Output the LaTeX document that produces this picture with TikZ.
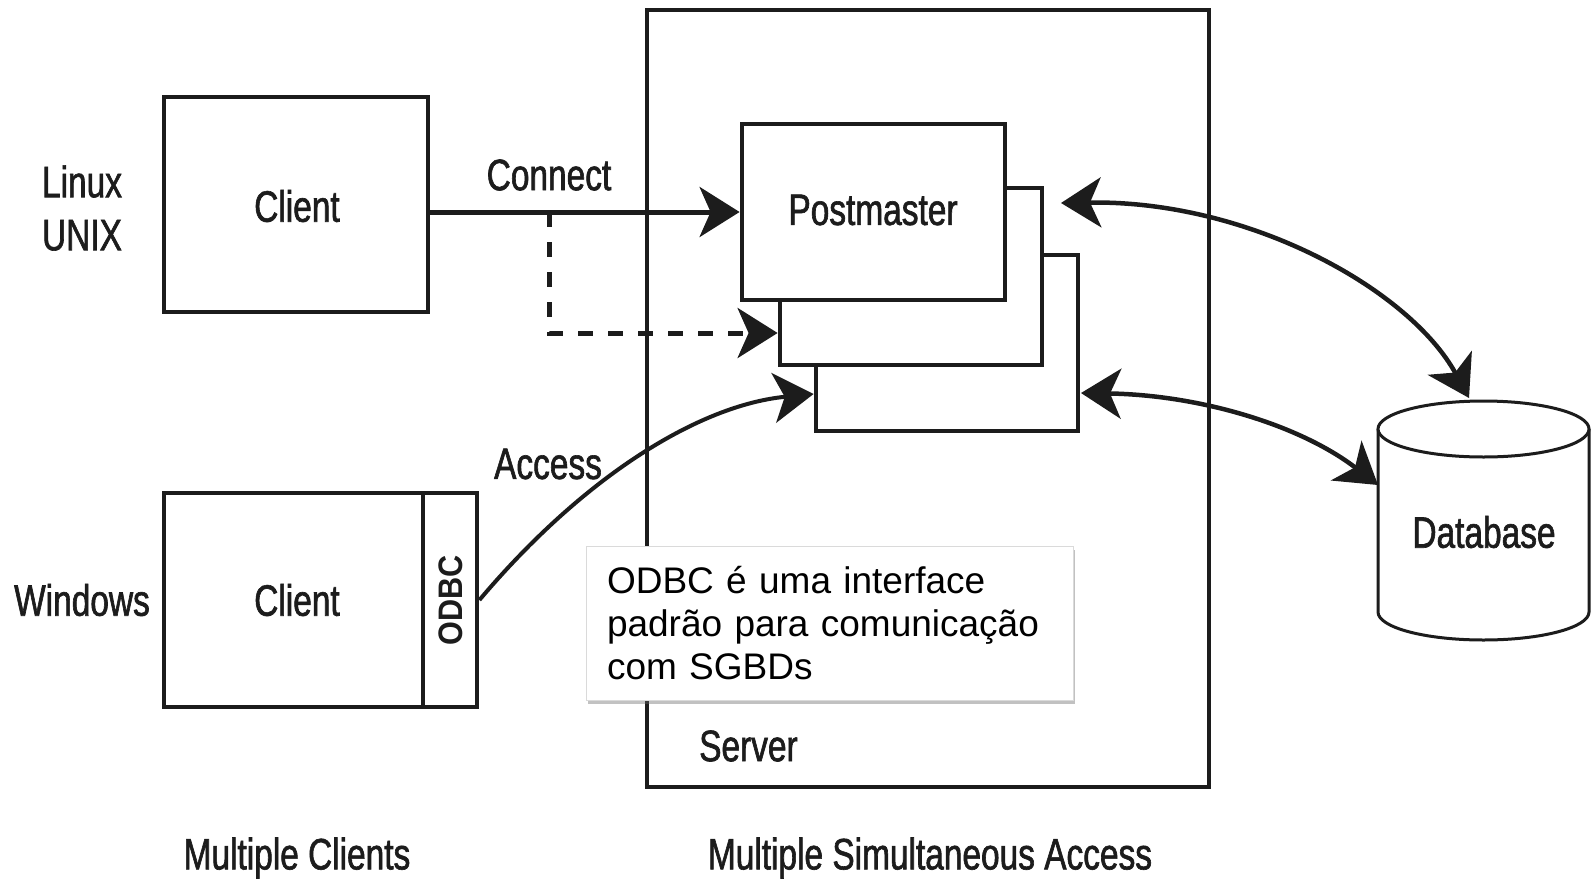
\documentclass[tikz,border=0pt]{standalone}
\usepackage{fontspec}
\setmainfont{Liberation Sans}
\newfontfamily\condfont[FakeStretch=0.76,FakeBold=1.4]{Liberation Sans}
\newfontfamily\condbold[FakeStretch=0.9]{Liberation Sans Bold}
\usetikzlibrary{arrows.meta,shadows,calc}
\definecolor{ink}{HTML}{1C1C1C}
\definecolor{noteedge}{HTML}{DADADA}
\begin{document}
\begin{tikzpicture}[x=1pt,y=-1pt,
  >={Stealth[length=40pt,width=50pt,inset=11pt]},
  lbl/.style={font=\condfont\fontsize{44}{53}\selectfont, text=ink, inner sep=0pt, align=center},
  box/.style={draw=ink, line width=4.8pt, fill=white, inner sep=0pt},
  link/.style={draw=ink, line width=5pt},
  note/.style={draw=noteedge, line width=0.8pt, fill=white, inner xsep=21pt, inner ysep=0pt,
    text width=445pt, align=left, minimum height=154pt, text=black,
    font=\fontsize{37}{43}\selectfont,
    drop shadow={shadow xshift=1.5pt, shadow yshift=-3.5pt, opacity=0.4, fill=black!60}}]
\useasboundingbox (0,0) rectangle (1592,878);

% server frame
\node[box, minimum width=562pt, minimum height=777pt] (server) at (928,398.5) {};
\node[lbl, anchor=west] (serverlbl) at (699,746) {Server};

% clients
\node[box, minimum width=264pt, minimum height=215pt] (ux) at (296,204.5) {};
\node[lbl] (uxtxt) at (297,206) {Client};
\node[lbl] (uxos) at (82,208) {Linux\\UNIX};

\node[box, minimum width=259pt, minimum height=214pt] (win) at (293.5,600) {};
\node[lbl] (wintxt) at (297,600) {Client};
\node[box, minimum width=54pt, minimum height=214pt] (odbc) at (450,600) {};
\node[font=\condbold\fontsize{34}{40}\selectfont, text=ink, rotate=90, inner sep=0pt] (odbctxt) at (451,600) {ODBC};
\node[lbl] (winos) at (82,600) {Windows};

% backend processes, stacked
\node[box, minimum width=262pt, minimum height=176pt] (p3) at (947,343) {};
\node[box, minimum width=262pt, minimum height=177pt] (p2) at (911,276.5) {};
\node[box, minimum width=263pt, minimum height=176pt] (pm) at (873.5,212) {};
\node[lbl] (pmtxt) at (873,210) {Postmaster};

% database cylinder
\fill[white] (1378,429) -- (1378,612) arc[start angle=180,end angle=360,x radius=105.5pt,y radius=28pt] -- (1589,429) -- cycle;
\draw[ink, line width=3pt] (1378,429) -- (1378,612) arc[start angle=180,end angle=360,x radius=105.5pt,y radius=28pt] -- (1589,429);
\draw[ink, line width=3pt, fill=white] (1483.5,429) ellipse[x radius=105.5, y radius=28];
\node[lbl] (db) at (1484,532) {Database};

% connections
\coordinate (split) at (549,212);
\coordinate (bend) at (549,333);
\draw[link, ->] (ux.east |- pm) -- (pm.west);
\node[lbl] (connect) at (549,175) {Connect};
\draw[link, dash pattern=on 15pt off 15pt, ->] (split) -- (bend) -- (bend -| p2.west);

\coordinate (accin) at ($(p3.west)+(0,51)$);
\draw[ink, line width=4pt, ->] (odbc.east) .. controls (585,475) and (700,405) .. (accin);
\node[lbl] (access) at (548,464) {Access};

\coordinate (uptop) at (1061,203);
\coordinate (dbtop) at (1469,398);
\coordinate (lowin) at (1081,393);
\coordinate (dbside) at (1378,485);
\draw[ink, line width=4.5pt, <->] (uptop) .. controls (1250,200) and (1410,290) .. (dbtop);
\draw[ink, line width=4.5pt, <->] (lowin) .. controls (1200,395) and (1300,425) .. (dbside);

% note
\node[note] (remark) at (829.5,623) {ODBC é uma interface padrão para comunicação com SGBDs};

% captions
\node[lbl] (cap1) at (297,858) {Multiple Clients};
\node[lbl] (cap2) at (930,858) {Multiple Simultaneous Access};
\end{tikzpicture}
\end{document}
